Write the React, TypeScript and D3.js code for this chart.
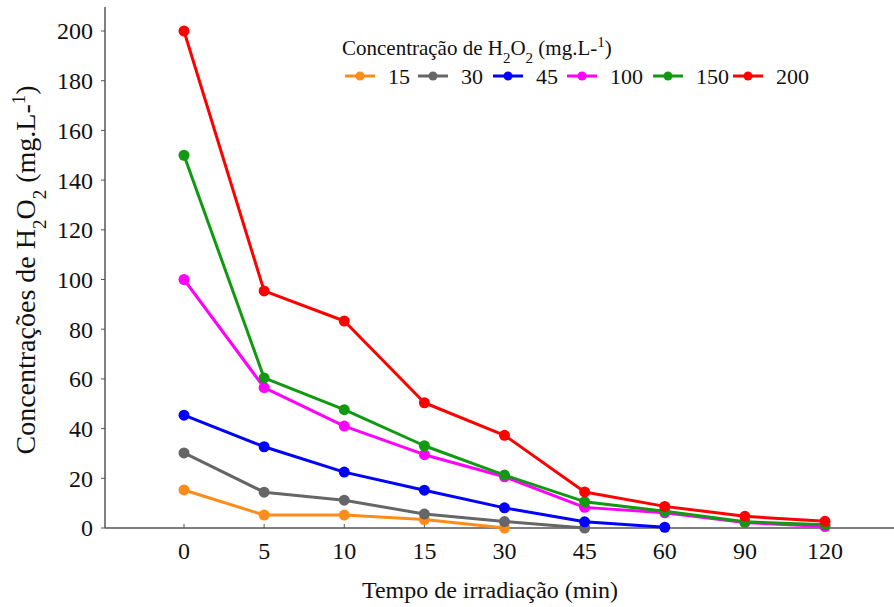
import React, { useEffect, useRef } from "react";
import * as d3 from "d3";

const times = ["0", "5", "10", "15", "30", "45", "60", "90", "120"];
const yTicks = [0, 20, 40, 60, 80, 100, 120, 140, 160, 180, 200];
const seriesNames = ["15", "30", "45", "100", "150", "200"];
const seriesColors = ["#FF8C1A", "#666666", "#0000FF", "#FF00FF", "#119911", "#FF0000"];
const s15 = [15.3, 5.2, 5.2, 3.4, 0];
const s30 = [30.2, 14.4, 11.2, 5.6, 2.6, 0];
const s45 = [45.4, 32.7, 22.5, 15.2, 8.1, 2.5, 0.3];
const s100 = [100, 56.5, 41, 29.5, 20.6, 8.3, 6.1, 2.2, 0.6];
const s150 = [150, 60.4, 47.6, 33.1, 21.3, 10.6, 6.7, 2.5, 1.3];
const s200 = [200, 95.4, 83.3, 50.4, 37.3, 14.5, 8.7, 4.7, 2.7];
const seriesValues = [s15, s30, s45, s100, s150, s200];

const W = 894;
const H = 607;
const FONT = "Liberation Serif, Times New Roman, Times, serif";

export default function App() {
  const ref = useRef<SVGSVGElement | null>(null);

  useEffect(() => {
    const svg = d3.select(ref.current);
    svg.selectAll("*").remove();

    const left = 105;
    const bottom = 528;
    const x = d3.scalePoint<string>().domain(times).range([184, 825]);
    const y = d3.scaleLinear().domain([0, 200]).range([bottom, 31]);

    // axes lines
    svg.append("line").attr("x1", left).attr("x2", left).attr("y1", 7).attr("y2", bottom)
      .attr("stroke", "#555").attr("stroke-width", 1.5);
    svg.append("line").attr("x1", left).attr("x2", W).attr("y1", bottom).attr("y2", bottom)
      .attr("stroke", "#555").attr("stroke-width", 1.5);

    // y ticks
    const yg = svg.append("g");
    yTicks.forEach((t) => {
      yg.append("line").attr("x1", left - 4).attr("x2", left).attr("y1", y(t)).attr("y2", y(t))
        .attr("stroke", "#555").attr("stroke-width", 1);
      yg.append("text").attr("x", left - 12).attr("y", y(t)).attr("dy", "0.35em")
        .attr("text-anchor", "end").style("font-family", FONT).style("font-size", "24px")
        .attr("fill", "#111").text(String(t));
    });

    // x ticks
    const xg = svg.append("g");
    times.forEach((t) => {
      const px = x(t) as number;
      xg.append("line").attr("x1", px).attr("x2", px).attr("y1", bottom - 4).attr("y2", bottom)
        .attr("stroke", "#555").attr("stroke-width", 1);
      xg.append("text").attr("x", px).attr("y", 559)
        .attr("text-anchor", "middle").style("font-family", FONT).style("font-size", "24px")
        .attr("fill", "#111").text(t);
    });

    // axis titles
    svg.append("text").attr("x", 490).attr("y", 598).attr("text-anchor", "middle")
      .style("font-family", FONT).style("font-size", "24px").attr("fill", "#111")
      .text("Tempo de irradiação (min)");

    const yt = svg.append("text").attr("transform", "translate(35,270) rotate(-90)")
      .attr("text-anchor", "middle").style("font-family", FONT).style("font-size", "28px")
      .attr("fill", "#111");
    yt.append("tspan").text("Concentrações de H");
    yt.append("tspan").attr("baseline-shift", "sub").style("font-size", "19px").text("2");
    yt.append("tspan").text("O");
    yt.append("tspan").attr("baseline-shift", "sub").style("font-size", "19px").text("2");
    yt.append("tspan").text(" (mg.L-");
    yt.append("tspan").attr("baseline-shift", "super").style("font-size", "19px").text("1");
    yt.append("tspan").text(")");

    // series
    const line = d3.line<number>()
      .x((_, i) => x(times[i]) as number)
      .y((d) => y(d));

    seriesValues.forEach((vals, si) => {
      const g = svg.append("g");
      g.append("path").attr("d", line(vals) as string).attr("fill", "none")
        .attr("stroke", seriesColors[si]).attr("stroke-width", 3)
        .attr("stroke-linejoin", "round");
      vals.forEach((v, i) => {
        g.append("circle").attr("cx", x(times[i]) as number).attr("cy", y(v)).attr("r", 5.5)
          .attr("fill", seriesColors[si]);
      });
    });

    // legend
    const lt = svg.append("text").attr("x", 342).attr("y", 55)
      .style("font-family", FONT).style("font-size", "21px").attr("fill", "#111");
    lt.append("tspan").text("Concentração de H");
    lt.append("tspan").attr("baseline-shift", "sub").style("font-size", "15px").text("2");
    lt.append("tspan").text("O");
    lt.append("tspan").attr("baseline-shift", "sub").style("font-size", "15px").text("2");
    lt.append("tspan").text(" (mg.L-");
    lt.append("tspan").attr("baseline-shift", "super").style("font-size", "15px").text("1");
    lt.append("tspan").text(")");

    const legX = [345, 418, 493, 567, 653, 733];
    const ly = 76;
    seriesNames.forEach((n, i) => {
      const lx = legX[i];
      svg.append("line").attr("x1", lx).attr("x2", lx + 30).attr("y1", ly).attr("y2", ly)
        .attr("stroke", seriesColors[i]).attr("stroke-width", 3);
      svg.append("circle").attr("cx", lx + 15).attr("cy", ly).attr("r", 4.5)
        .attr("fill", seriesColors[i]);
      svg.append("text").attr("x", lx + 43).attr("y", ly).attr("dy", "0.35em")
        .style("font-family", FONT).style("font-size", "22px").attr("fill", "#111").text(n);
    });
  }, []);

  return (
    <svg
      ref={ref}
      width={W}
      height={H}
      style={{ position: "absolute", left: 0, top: 0, background: "#fff" }}
    />
  );
}
